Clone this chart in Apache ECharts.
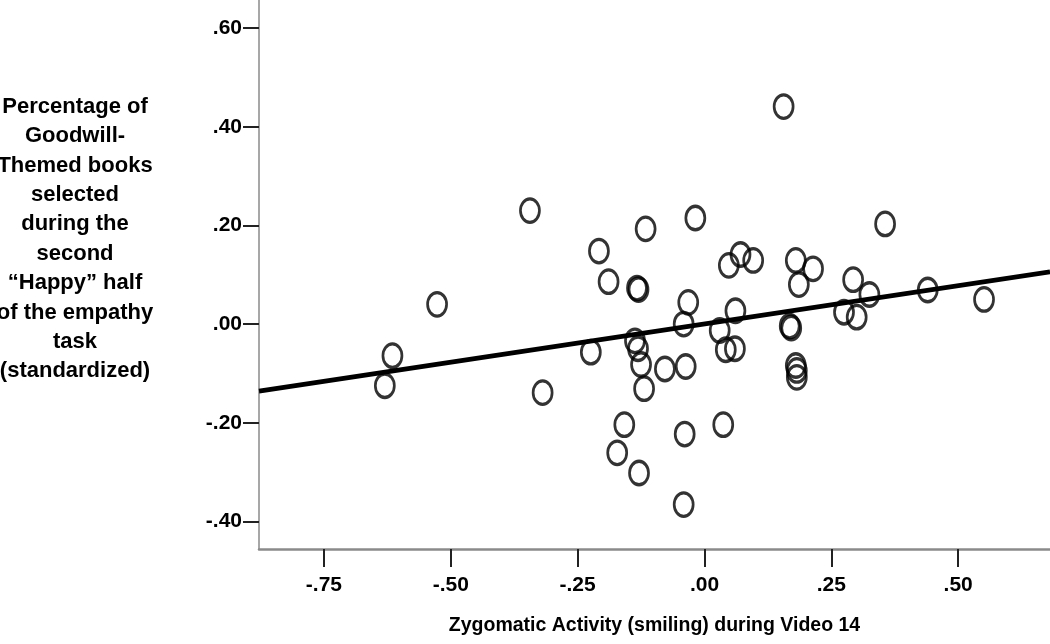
<!DOCTYPE html>
<html>
<head>
<meta charset="utf-8">
<script src="https://cdn.jsdelivr.net/npm/echarts@6/dist/echarts.min.js"></script>
<style>
  html, body { margin: 0; padding: 0; background: #fff; }
  #chart_1 { width: 1050px; height: 644px; }
</style>
</head>
<body>
<div id="chart_1"></div>
<script>
// zygomatic activity (x) vs goodwill books (y)
let zygomatic = [
  0.156, -0.344, -0.527, -0.615, -0.630, -0.319, -0.208, -0.189, -0.116, -0.018,
  0.356, -0.133, -0.130, 0.048, 0.071, 0.096, 0.180, 0.214, 0.186, 0.293,
  0.325, 0.440, 0.551, -0.032, 0.061, -0.041, 0.030, 0.168, 0.171, 0.275,
  0.300, -0.224, -0.137, -0.131, -0.125, -0.119, -0.078, -0.037, 0.042, 0.060,
  0.180, 0.182, 0.182, -0.158, -0.172, -0.129, -0.039, 0.037, -0.041
]
let goodwill = [
  0.441, 0.230, 0.040, -0.064, -0.125, -0.139, 0.148, 0.086, 0.193, 0.215,
  0.203, 0.073, 0.070, 0.119, 0.141, 0.129, 0.129, 0.112, 0.080, 0.090,
  0.060, 0.069, 0.050, 0.044, 0.027, 0.000, -0.013, -0.004, -0.008, 0.024,
  0.014, -0.057, -0.034, -0.050, -0.082, -0.131, -0.091, -0.086, -0.052, -0.050,
  -0.084, -0.094, -0.108, -0.204, -0.261, -0.302, -0.223, -0.204, -0.366
]
// fit line end points
let fitX = [-0.878, 0.681]
let fitY = [-0.136, 0.106]

let xTicks = [-0.75, -0.5, -0.25, 0, 0.25, 0.5]
let yTicks = [-0.4, -0.2, 0, 0.2, 0.4, 0.6]

let yName = ['Percentage of', 'Goodwill-', 'Themed books', 'selected', 'during the',
  'second', '\u201cHappy\u201d half', 'of the empathy', 'task', '(standardized)']
let xName = 'Zygomatic Activity (smiling) during Video 14'

function fmt (v) {
  let s = Math.abs(v).toFixed(2).replace(/^0/, '')
  return (v < 0 ? '-' : '') + s
}

let points = []
for (let i = 0; i < zygomatic.length; i++) {
  points.push([zygomatic[i], goodwill[i]])
}
let fit = []
for (let i = 0; i < fitX.length; i++) {
  fit.push([fitX[i], fitY[i]])
}

let labelFont = {
  color: '#000',
  fontFamily: '"Liberation Sans Narrow", "Liberation Sans", Arial, sans-serif',
  fontWeight: 'bold',
  fontSize: 21
}

let chart_1 = echarts.init(document.getElementById('chart_1'))
chart_1.setOption({
  animation: false,
  backgroundColor: '#fff',
  grid: { left: 259, right: 0, top: 0, bottom: 95 },
  graphic: [
    {
      type: 'text',
      x: 75,
      y: 239,
      style: {
        text: yName.join('\n'),
        align: 'center',
        verticalAlign: 'middle',
        fill: '#000',
        font: 'bold 22px "Liberation Sans", Arial, sans-serif',
        lineHeight: 29.4
      }
    }
  ],
  xAxis: {
    type: 'value',
    min: -0.878,
    max: 0.681,
    name: xName,
    nameLocation: 'middle',
    nameGap: 67,
    nameTextStyle: Object.assign({}, labelFont, { fontSize: 19.5 }),
    splitLine: { show: false },
    axisLine: { show: true, onZero: false, lineStyle: { color: '#8a8a8a', width: 2.5 } },
    axisTick: {
      show: true, length: 18, customValues: xTicks,
      lineStyle: { color: '#222', width: 2 }
    },
    axisLabel: Object.assign({
      margin: 26, customValues: xTicks, formatter: fmt
    }, labelFont)
  },
  yAxis: {
    type: 'value',
    min: -0.456,
    max: 0.657,
    splitLine: { show: false },
    axisLine: { show: true, onZero: false, lineStyle: { color: '#8a8a8a', width: 1.5 } },
    axisTick: {
      show: true, length: 16, customValues: yTicks,
      lineStyle: { color: '#222', width: 2 }
    },
    axisLabel: Object.assign({
      margin: 17, customValues: yTicks, formatter: fmt
    }, labelFont)
  },
  series: [
    {
      type: 'line',
      data: fit,
      symbol: 'none',
      silent: true,
      lineStyle: { color: '#000', width: 4.8 },
      z: 3
    },
    {
      type: 'scatter',
      data: points,
      symbol: 'path://M0,10a10,10 0 1,0 20,0a10,10 0 1,0 -20,0',
      symbolSize: [19, 23.5],
      itemStyle: { color: 'rgba(0,0,0,0)', borderColor: '#000', borderWidth: 3 },
      z: 4
    }
  ]
})
</script>
</body>
</html>
